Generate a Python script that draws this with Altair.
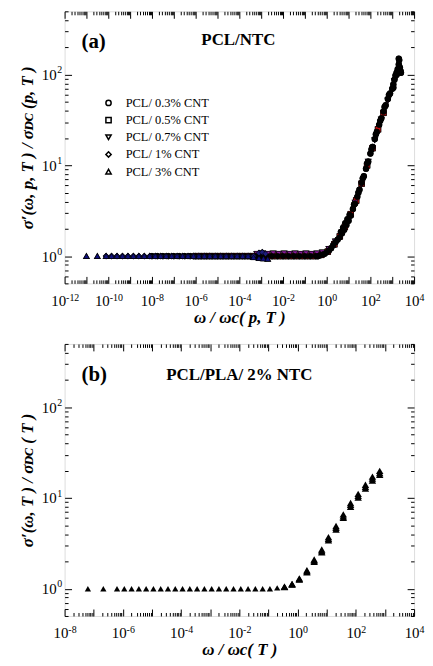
import altair as alt
import pandas as pd

FONT = "Liberation Serif"

# ---------------- Panel (a): PCL/NTC  (log10 of ω/ωc, and σ'/σDC) ----------------
a_names = ["PCL/ 0.3% CNT", "PCL/ 0.5% CNT", "PCL/ 0.7% CNT", "PCL/ 1% CNT", "PCL/ 3% CNT"]
a_shapes = ["circle", "square", "triangle-down", "diamond", "triangle-up"]
a_fills = ["#000000", "#cc1010", "#8a1a9a", "#1c1c7a", "#10107e"]

# 0.5% CNT (drawn first, mostly hidden)
a05_logx = [-6.0, -5.75, -5.5, -5.25, -5.0, -4.75, -4.5, -4.25, -4.0, -3.75, -3.5, -3.25,
            -3.0, -2.75, -2.5, -2.25, -2.0, -1.75, -1.5, -1.25, -1.0, -0.75, -0.5,
            -0.25, 0.05, 0.35, 0.6, 0.83, 1.1, 1.35, 1.6, 1.85, 2.1, 2.35, 2.6]
a05_y = [1.0] * 23 + [1.03, 1.12, 1.35, 1.65, 2.1, 2.9, 4.1, 6.3, 10, 15.5, 25, 38]

# 0.7% CNT
a07_logx = [-3.2, -2.95, -2.7, -2.45, -2.2, -1.95, -1.7, -1.45, -1.2, -0.95, -0.7, -0.45,
            -0.2, 0.1, 0.4, 0.7, 1.0, 1.3, 1.6, 1.9, 2.2, 2.5, 2.8, 3.1]
a07_y = [1.06, 1.07, 1.06, 1.07, 1.06, 1.07, 1.06, 1.07, 1.06, 1.07, 1.06, 1.07,
         1.1, 1.2, 1.45, 1.8, 2.5, 3.9, 6.2, 11, 19, 32, 52, 85]

# 0.3% CNT (black circles, the dense master curve)
a03_logx = [-8.0, -7.75, -7.5, -7.25, -7.0, -6.75, -6.5, -6.25, -6.0, -5.75, -5.5, -5.25,
            -5.0, -4.75, -4.5, -4.25, -4.0, -3.75, -3.5, -3.25, -3.0, -2.75, -2.5, -2.25,
            -2.0, -1.75, -1.5, -1.25, -1.0, -0.75, -0.5,
            -0.4, -0.3, -0.2, -0.1, 0.0, 0.1, 0.2, 0.3, 0.4, 0.5, 0.6, 0.7, 0.8, 0.9,
            1.0, 1.1, 1.2, 1.3, 1.4, 1.5, 1.6, 1.7, 1.8, 1.9, 2.0, 2.1, 2.2, 2.3, 2.4,
            2.5, 2.6, 2.7, 2.8, 2.9, 3.0, 3.05, 3.1, 3.15, 3.2, 3.25, 3.3, 3.32, 3.35,
            3.38, 3.4,
            0.65, 0.75, 0.85, 0.95, 1.05, 1.25, 1.45, 1.65, 1.85, 2.05, 2.25, 2.45,
            2.65, 2.85, 3.05, 3.2, 3.3]
a03_y = [1.0] * 31 + [
            1.0, 1.02, 1.04, 1.06, 1.1, 1.15, 1.22, 1.32, 1.42, 1.52, 1.62, 1.78, 1.95, 2.2,
            2.45, 2.8, 3.3, 3.8, 4.5, 5.4, 6.4, 7.6, 9.2, 11, 13.5, 16, 19.5, 23.5, 28,
            33, 39, 46, 54, 62, 70, 78, 88, 98, 105, 115, 130, 145, 120,
            110, 105,
            1.85, 2.05, 2.3, 2.55, 2.85, 3.7, 5.0, 7.2, 10.5, 15, 22, 31,
            44, 60, 72, 100, 150]

# 1% CNT
a1_logx = [-10.1, -9.85, -9.6, -9.35, -9.1, -8.85, -8.6, -8.35, -8.1, -7.85, -7.6, -7.35,
           -7.1, -6.85, -6.6, -6.35, -6.1, -5.85, -5.6, -5.35, -5.1, -4.85, -4.6, -4.35,
           -4.1, -3.85, -3.6, -3.35, -3.1, -2.95, -2.8]
a1_y = [1.0] * 28 + [1.08, 1.1, 1.06]

# 3% CNT
a3_logx = [-11.0, -10.5, -10.1, -9.85, -9.6, -9.35, -9.1, -8.85, -8.6, -8.35, -8.1, -7.85,
           -7.6, -7.35, -7.1, -6.85, -6.6, -6.35, -6.1, -5.85, -5.6, -5.35, -5.1, -4.85,
           -4.6, -4.35, -4.1, -3.85, -3.6, -3.35, -3.1, -2.9, -2.7]
a3_y = [1.0] * 29 + [0.97, 0.95, 0.94, 0.93]

# ---------------- Panel (b): PCL/PLA/ 2% NTC ----------------
b_logx = [-7.2, -6.67, -6.2, -5.95, -5.7, -5.45, -5.2, -4.95, -4.7, -4.45, -4.2, -3.95,
          -3.7, -3.45, -3.2, -2.95, -2.7, -2.45, -2.2, -1.95, -1.7, -1.45, -1.2, -0.95, -0.7]
b_y = [1.0] * 24 + [1.02]
b_rise_logx = [-0.45, -0.19, 0.06, 0.32, 0.57, 0.83, 1.06, 1.32, 1.57, 1.82, 2.08, 2.33, 2.57, 2.82]
b_rise_top = [1.05, 1.13, 1.3, 1.6, 2.1, 2.7, 3.7, 4.9, 6.6, 8.8, 11.1, 14, 17.2, 19.9]
b_rise_mid = [1.05, 1.12, 1.28, 1.56, 2.04, 2.6, 3.56, 4.7, 6.3, 8.4, 10.6, 13.3, 16.4, 18.9]
b_rise_low = [1.04, 1.11, 1.26, 1.52, 1.98, 2.52, 3.42, 4.5, 6.05, 8.0, 10.1, 12.7, 15.6, 18.0]

# ---------------- tables ----------------
def series(name, lx, ys):
    return pd.DataFrame({"x": [10 ** v for v in lx], "y": ys, "series": name, "fk": name})

df_a = pd.concat([
    series(a_names[1], a05_logx, a05_y),
    series(a_names[2], a07_logx, a07_y),
    series(a_names[0], a03_logx, a03_y),
    series(a_names[3], a1_logx, a1_y),
    series(a_names[4], a3_logx, a3_y),
], ignore_index=True)

df_b = pd.concat([
    series("b", b_logx, b_y),
    series("b", b_rise_logx, b_rise_low),
    series("b", b_rise_logx, b_rise_mid),
    series("b", b_rise_logx, b_rise_top),
], ignore_index=True)

# ---------------- axis helpers ----------------
EXP = "'' + round(log(datum.value)/LN10)"


def decades(lo, hi):
    return [10.0 ** e for e in range(lo, hi + 1)]


def minors(lo, hi):
    out = []
    for e in range(lo, hi):
        for m in range(2, 10):
            out.append(m * 10.0 ** e)
    return out


Y_MAJ = decades(0, 2)
Y_MIN = [0.5, 0.6, 0.7, 0.8, 0.9] + minors(0, 2) + [200, 300, 400, 500]

W, H = 352, 274
MAJ, MIN = 7, 3.5
X_OFF = {"condition": [{"test": "datum.value < 1e-9", "value": 1},
                       {"test": "datum.value < 0.5", "value": 3.3}], "value": 5}

COMMON = dict(domain=False, grid=False, labelFont=FONT, labelColor="black",
              labelOverlap=False, labelFlush=False)
TITLE = dict(titleFont=FONT, titleFontSize=17, titleFontStyle="italic",
             titleFontWeight="bold", titleColor="black")


def tick_axis(orient, values, size):
    return alt.Axis(orient=orient, values=values, labels=False, ticks=True, tickSize=size,
                    offset=-size, domain=False, grid=False, title=None,
                    tickColor="black", tickWidth=1)


def make_panel(df, xlo, xhi, xlab_exps, xtitle, ytitle, point_layer, texts, under=None):
    xs = alt.Scale(type="log", domain=[10.0 ** xlo, 10.0 ** xhi], nice=False)
    ys = alt.Scale(type="log", domain=[0.5, 500], nice=False)
    xvals = [10.0 ** e for e in xlab_exps]
    x_base = alt.Axis(orient="bottom", values=xvals, ticks=False, labelExpr="'10'",
                      labelAlign="right", labelOffset=X_OFF, labelPadding=10,
                      labelFontSize=15, title=xtitle, titlePadding=1, **COMMON, **TITLE)
    x_exp = alt.Axis(orient="bottom", values=xvals, ticks=False, labelExpr=EXP,
                     labelAlign="left", labelOffset=X_OFF, labelPadding=9,
                     labelFontSize=10, title=None, **COMMON)
    y_base = alt.Axis(orient="left", values=Y_MAJ, ticks=False, labelExpr="'10'",
                      labelPadding=8.5, labelFontSize=15, labelBaseline="middle",
                      title=ytitle, titlePadding=5, **COMMON, **TITLE)
    y_exp = alt.Axis(orient="left", values=Y_MAJ, ticks=False, labelExpr=EXP,
                     labelPadding=3, labelFontSize=10, labelOffset=-5,
                     labelBaseline="middle", title=None, **COMMON)
    xmaj, xmin = decades(xlo, xhi), minors(xlo, xhi)
    axes = [
        (x_exp, y_exp),
        (tick_axis("bottom", xmaj, MAJ), tick_axis("left", Y_MAJ, MAJ)),
        (tick_axis("bottom", xmin, MIN), tick_axis("left", Y_MIN, MIN)),
        (tick_axis("top", xmaj, MAJ), tick_axis("right", Y_MAJ, MAJ)),
        (tick_axis("top", xmin, MIN), tick_axis("right", Y_MIN, MIN)),
    ]
    layers = []
    if under is not None:
        layers.append(under(alt.X("x:Q", scale=xs, axis=None), alt.Y("y:Q", scale=ys, axis=None)))
    layers.append(point_layer(alt.X("x:Q", scale=xs, axis=x_base),
                              alt.Y("y:Q", scale=ys, axis=y_base)))
    for ax_x, ax_y in axes:
        layers.append(alt.Chart(df).mark_point(opacity=0).encode(
            x=alt.X("x:Q", scale=xs, axis=ax_x), y=alt.Y("y:Q", scale=ys, axis=ax_y)))
    for txt, px, py, size, align in texts:
        layers.append(alt.Chart(pd.DataFrame({"t": [txt]})).mark_text(
            font=FONT, fontSize=size, fontWeight="bold", align=align, baseline="middle",
            color="black").encode(x=alt.value(px), y=alt.value(py), text="t:N"))
    out = alt.layer(*layers).resolve_axis(x="independent", y="independent")
    if under is not None:
        out = out.resolve_legend(shape="independent", fill="independent")
    return out.properties(width=W, height=H)


SHAPE_SCALE = alt.Scale(domain=a_names, range=a_shapes)


def legend_a(xenc, yenc):
    # open black symbols underneath the data: they carry the legend
    return alt.Chart(df_a).mark_point(filled=False, size=26, color="black", strokeWidth=1.3,
                                      opacity=1).encode(
        x=xenc, y=yenc,
        shape=alt.Shape("series:N", scale=SHAPE_SCALE,
                        legend=alt.Legend(orient="none", legendX=38, legendY=86, title=None,
                                          labelFont=FONT, labelFontSize=12.5,
                                          labelColor="black", symbolSize=28, rowPadding=4.3,
                                          labelOffset=11, symbolStrokeWidth=1.5,
                                          symbolFillColor="white",
                                          symbolStrokeColor="black")))


def points_a(xenc, yenc):
    return alt.Chart(df_a).mark_point(filled=True, size=32, stroke="black", strokeWidth=0.6,
                                      opacity=1).encode(
        x=xenc, y=yenc,
        shape=alt.Shape("series:N", scale=SHAPE_SCALE, legend=None),
        fill=alt.Fill("fk:N", scale=alt.Scale(domain=a_names, range=a_fills), legend=None),
    )


def points_b(xenc, yenc):
    return alt.Chart(df_b).mark_point(filled=True, shape="triangle-up", color="black",
                                      opacity=1).encode(
        x=xenc, y=yenc,
        size=alt.condition("datum.x > 0.3", alt.value(56), alt.value(40)))


panel_a = make_panel(
    df_a, -12, 4, [-12, -10, -8, -6, -4, -2, 0, 2, 4],
    "ω / ωc( p, T )", "σ′(ω, p, T ) / σᴅᴄ (p, T )", points_a,
    [("(a)", 17, 31, 21, "left"), ("PCL/NTC", 175, 29, 17, "center")], under=legend_a)

panel_b = make_panel(
    df_b, -8, 4, [-8, -6, -4, -2, 0, 2, 4],
    "ω / ωc( T )", "σ′(ω, T ) / σᴅᴄ ( T )", points_b,
    [("(b)", 17, 31, 21, "left"), ("PCL/PLA/ 2% NTC", 176, 31, 17, "center")])

chart = alt.vconcat(panel_a, panel_b, spacing=17).resolve_scale(
    x="independent", y="independent").properties(
    padding={"left": 10, "top": 0, "right": 0, "bottom": 0}
).configure_view(stroke="black", strokeWidth=1.5).configure(background="white")

chart.save("out.html", embed_options={"renderer": "svg", "actions": False})
